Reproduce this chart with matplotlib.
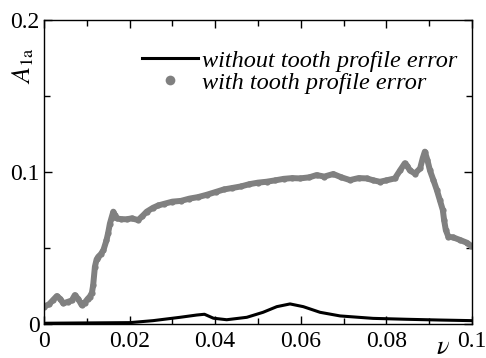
import numpy as np
import matplotlib
matplotlib.use('Agg')
import matplotlib.pyplot as plt

# DADOS
nu_gray = [0.0, 0.0012, 0.0022, 0.003, 0.0038, 0.0045, 0.0055, 0.0065, 0.0072, 0.008,
           0.0088, 0.0095, 0.0102, 0.0107, 0.0112, 0.0115, 0.0119, 0.0123, 0.0127, 0.0133,
           0.0139, 0.0146, 0.015, 0.0154, 0.0158, 0.0162, 0.0166, 0.017, 0.018, 0.0193,
           0.0205, 0.022, 0.023, 0.024, 0.0255, 0.0267, 0.028, 0.03, 0.032, 0.034,
           0.036, 0.038, 0.0403, 0.042, 0.044, 0.046, 0.048, 0.05, 0.052, 0.054,
           0.056, 0.058, 0.0598, 0.062, 0.0637, 0.0655, 0.0676, 0.0695, 0.0715, 0.0735,
           0.0754, 0.077, 0.0785, 0.08, 0.082, 0.0832, 0.0843, 0.0849, 0.0855, 0.0867,
           0.0879, 0.0885, 0.089, 0.0896, 0.0902, 0.091, 0.0918, 0.0925, 0.0932, 0.0935,
           0.0939, 0.0945, 0.0956, 0.0972, 0.0988, 0.0999]
a_gray = [0.0114, 0.013, 0.016, 0.0184, 0.0165, 0.0136, 0.0145, 0.0155, 0.019, 0.0165,
          0.0125, 0.014, 0.0165, 0.018, 0.0205, 0.0257, 0.0377, 0.0425, 0.0443, 0.046,
          0.0487, 0.055, 0.06, 0.066, 0.07, 0.0739, 0.0715, 0.0695, 0.069, 0.0689,
          0.0695, 0.0684, 0.071, 0.0739, 0.0765, 0.078, 0.079, 0.0805, 0.081, 0.0825,
          0.0835, 0.085, 0.087, 0.0885, 0.0895, 0.0905, 0.092, 0.093, 0.0936, 0.0945,
          0.0955, 0.096, 0.0958, 0.0965, 0.098, 0.097, 0.0987, 0.0965, 0.0947, 0.096,
          0.0958, 0.0945, 0.0936, 0.0945, 0.0958, 0.101, 0.1057, 0.104, 0.101, 0.099,
          0.1024, 0.109, 0.1134, 0.1079, 0.101, 0.0947, 0.0882, 0.0816, 0.075, 0.0684,
          0.0618, 0.0574, 0.057, 0.0553, 0.0535, 0.0513]

nu_black = [0.0, 0.0006, 0.01, 0.0201, 0.0255, 0.0318, 0.0357, 0.0375, 0.0396, 0.0427,
            0.0474, 0.0512, 0.0544, 0.0575, 0.0606, 0.0645, 0.0692, 0.0769, 0.0847, 0.0925, 0.1]
a_black = [0.0004, 0.0005, 0.0007, 0.0009, 0.0022, 0.0044, 0.0059, 0.0064, 0.0038, 0.0028,
           0.0044, 0.0077, 0.0114, 0.0132, 0.0114, 0.0077, 0.0053, 0.0037, 0.0031, 0.0026, 0.0022]

xticks = [0, 0.02, 0.04, 0.06, 0.08, 0.1]
xticklabels = ['0', '0.02', '0.04', '0.06', '0.08', '0.1']
yticks = [0, 0.1, 0.2]
yticklabels = ['0', '0.1', '0.2']

plt.rcParams['font.family'] = ['Liberation Serif', 'DejaVu Serif']
plt.rcParams['mathtext.fontset'] = 'stix'

fig = plt.figure(figsize=(4.86, 3.58), dpi=100)
ax = fig.add_axes([0.0905, 0.095, 0.8805, 0.849])

# curva com erro (pontos cinza densos)
ax.plot(nu_gray, a_gray, color='#808080', linewidth=4.3, solid_capstyle='round',
        solid_joinstyle='round', zorder=2)
pts, = ax.plot(nu_gray, a_gray, 'o', color='#808080', markersize=4.5, markeredgewidth=0,
               zorder=2)
# curva sem erro
lin, = ax.plot(nu_black, a_black, color='black', linewidth=2.2, zorder=3)

ax.set_xlim(0, 0.1)
ax.set_ylim(0, 0.2)
ax.set_xticks(xticks)
ax.set_xticklabels(xticklabels)
ax.set_yticks(yticks)
ax.set_yticklabels(yticklabels)
ax.set_xticks(np.arange(0.01, 0.1, 0.02), minor=True)
ax.set_yticks([0.05, 0.15], minor=True)
ax.tick_params(which='both', direction='in', top=True, right=True, labelsize=17)
ax.tick_params(axis='x', pad=5)
ax.tick_params(axis='y', pad=3)
ax.tick_params(which='major', length=6, width=1)
ax.tick_params(which='minor', length=4, width=1)
for s in ax.spines.values():
    s.set_linewidth(1.0)

leg = ax.legend([lin, pts], ['without tooth profile error', 'with tooth profile error'],
                loc='upper right', frameon=False,
                prop={'style': 'italic', 'size': 17.5}, handlelength=2.3,
                handletextpad=0.15, labelspacing=0.0, borderaxespad=0.2,
                bbox_to_anchor=(1.0, 0.95))
leg.legend_handles[1].set_markersize(7)

fig.text(0.047, 0.818, r'$A_{\mathrm{1a}}$', rotation=90, fontsize=19,
         ha='center', va='center')
fig.text(0.912, 0.028, r'$\nu$', fontsize=19, ha='center', va='center')

fig.savefig('out.png', dpi=100)
